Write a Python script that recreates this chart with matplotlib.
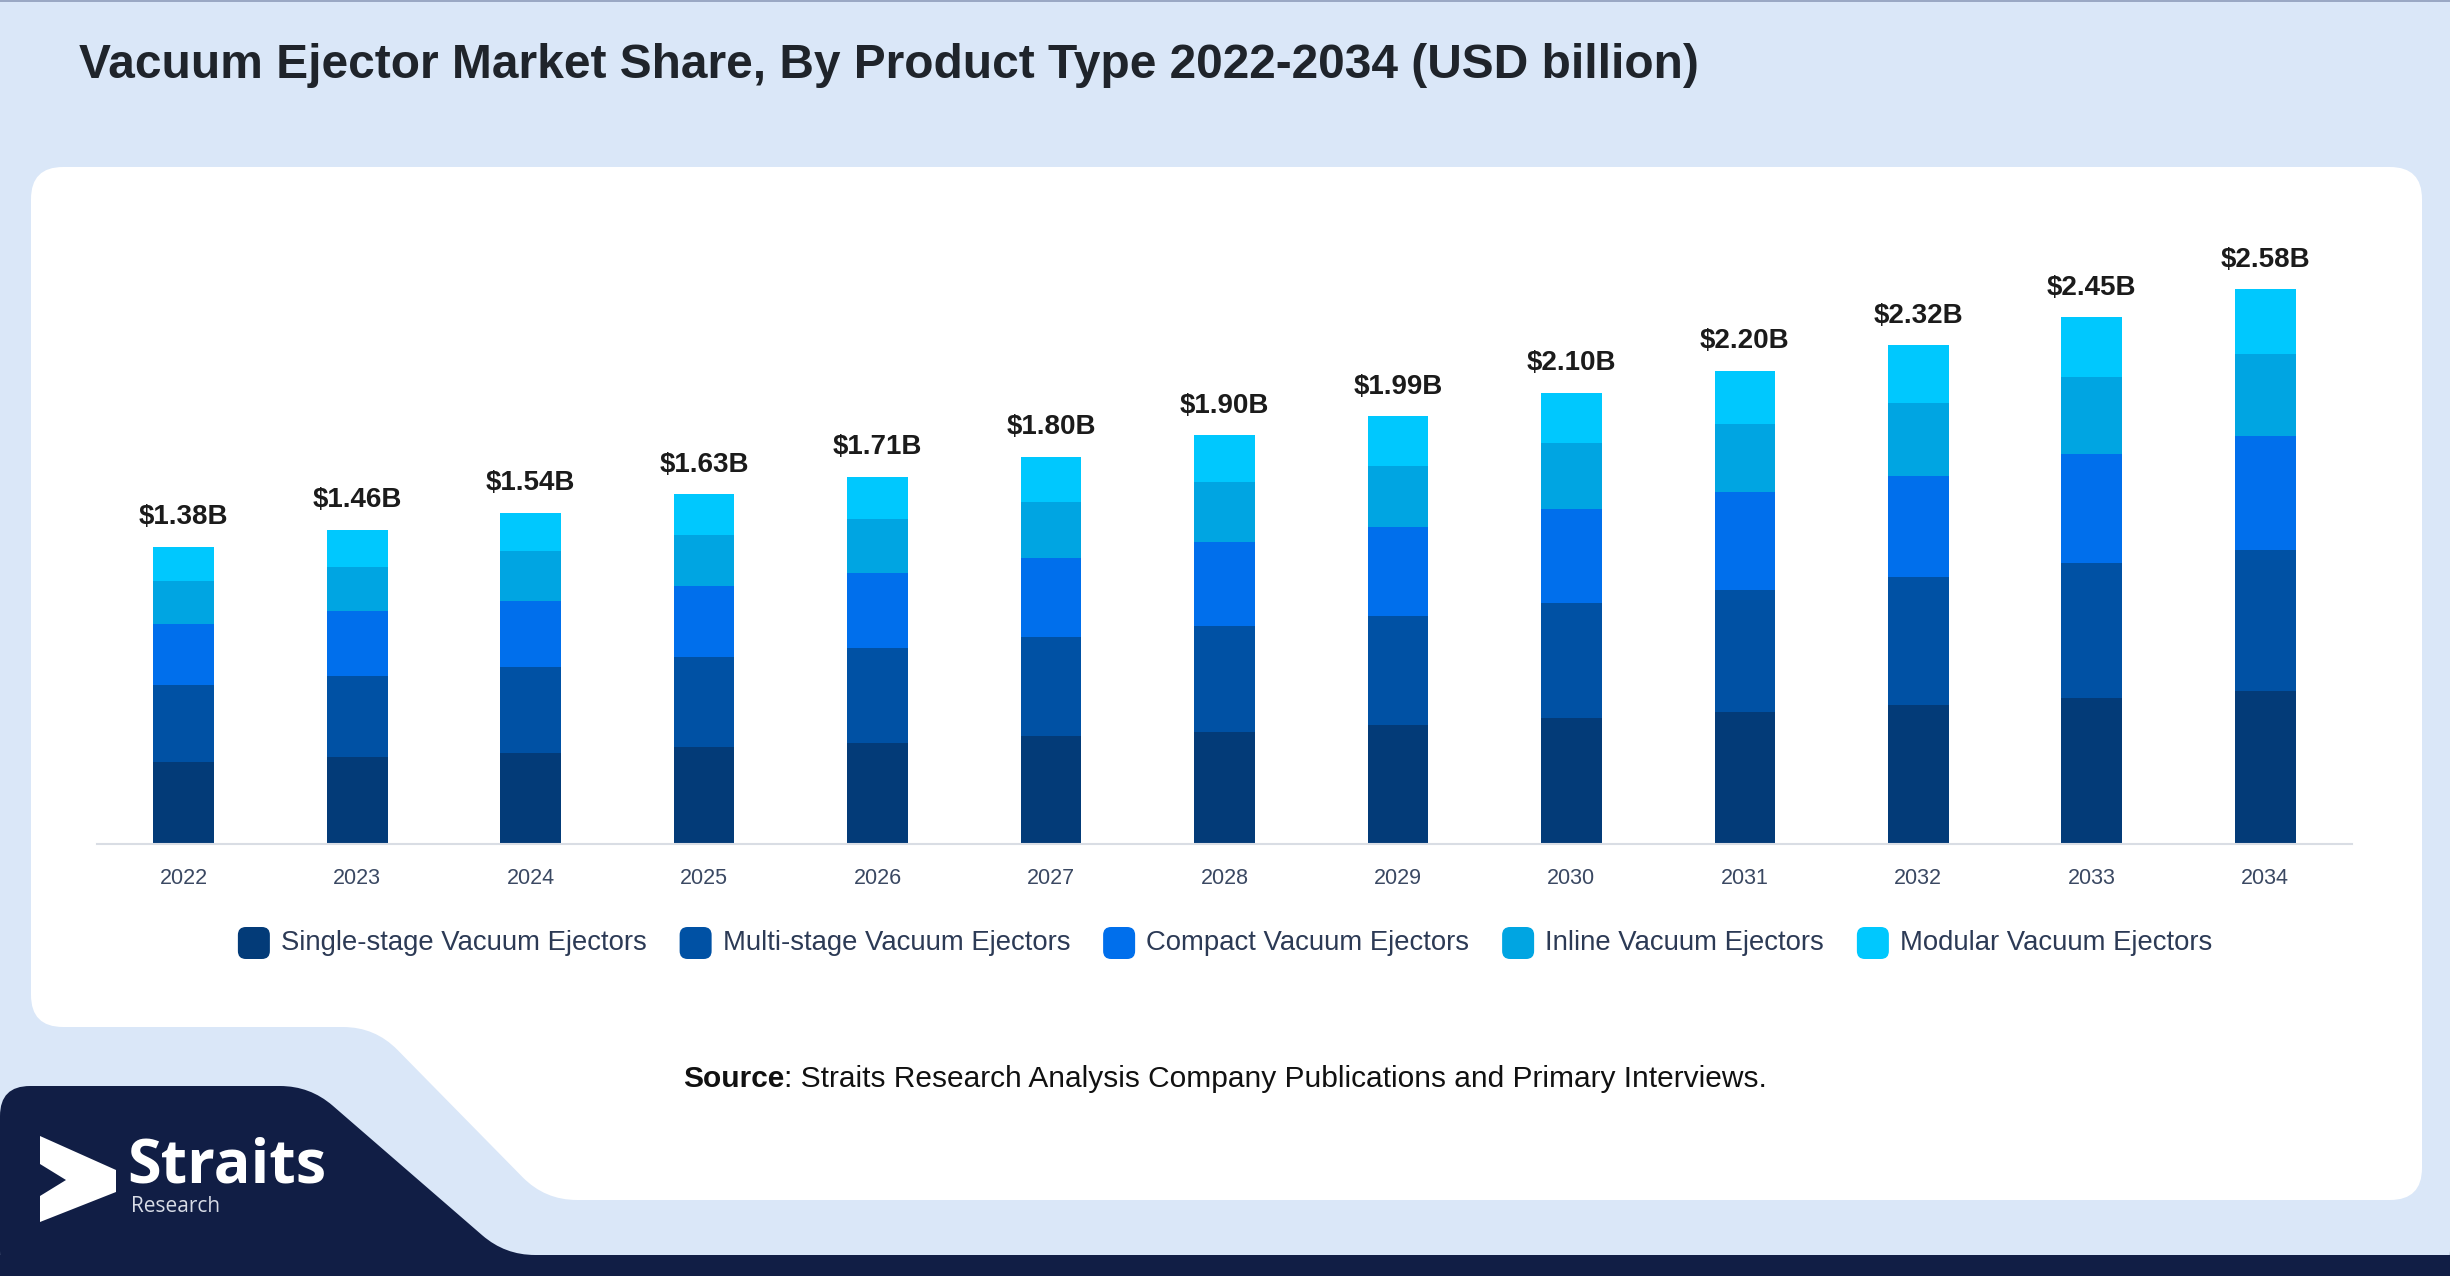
import numpy as np
import matplotlib
matplotlib.use("Agg")
import matplotlib.pyplot as plt
from matplotlib.path import Path
from matplotlib.patches import PathPatch, FancyBboxPatch, Rectangle, Polygon

plt.rcParams['font.family'] = ['Liberation Sans', 'DejaVu Sans']

# data (USD billion)
years = ['2022', '2023', '2024', '2025', '2026', '2027', '2028',
         '2029', '2030', '2031', '2032', '2033', '2034']
single = [0.380, 0.403, 0.423, 0.453, 0.470, 0.504, 0.523, 0.552, 0.586, 0.613, 0.645, 0.677, 0.711]
multi = [0.360, 0.377, 0.399, 0.415, 0.443, 0.458, 0.489, 0.510, 0.537, 0.570, 0.595, 0.631, 0.657]
compact = [0.281, 0.302, 0.310, 0.333, 0.347, 0.369, 0.391, 0.412, 0.433, 0.452, 0.471, 0.505, 0.531]
inline = [0.202, 0.208, 0.229, 0.237, 0.251, 0.261, 0.279, 0.286, 0.308, 0.317, 0.341, 0.360, 0.382]
modular = [0.158, 0.171, 0.178, 0.189, 0.198, 0.208, 0.219, 0.229, 0.236, 0.248, 0.268, 0.277, 0.299]
totals = [1.38, 1.46, 1.54, 1.63, 1.71, 1.80, 1.90, 1.99, 2.10, 2.20, 2.32, 2.45, 2.58]

series_names = ['Single-stage Vacuum Ejectors', 'Multi-stage Vacuum Ejectors',
                'Compact Vacuum Ejectors', 'Inline Vacuum Ejectors', 'Modular Vacuum Ejectors']
colors = ['#033b78', '#0051a4', '#006fec', '#00a5e2', '#00c8fe']

W, H = 2450, 1276
fig = plt.figure(figsize=(W / 100, H / 100), dpi=100)
fig.patch.set_facecolor('#dae7f8')


def rounded_path(pts, r):
    # closed polygon with rounded corners (quadratic curves)
    pts = [np.array(p, float) for p in pts]
    n = len(pts)
    verts, codes = [], []
    for i in range(n):
        p0, p1, p2 = pts[i - 1], pts[i], pts[(i + 1) % n]
        d1 = (p0 - p1) / np.linalg.norm(p0 - p1)
        d2 = (p2 - p1) / np.linalg.norm(p2 - p1)
        a = p1 + d1 * r
        b = p1 + d2 * r
        verts += [a, p1, b]
        codes += [Path.MOVETO if i == 0 else Path.LINETO, Path.CURVE3, Path.CURVE3]
    verts.append(verts[0])
    codes.append(Path.CLOSEPOLY)
    return Path(verts, codes)


# background decoration in pixel coordinates
bg = fig.add_axes([0, 0, 1, 1])
bg.set_xlim(0, W)
bg.set_ylim(H, 0)
bg.axis('off')
bg.add_patch(Rectangle((0, 0), W, 2, color='#9aa8c4', lw=0))

panel = [(31, 167), (2422, 167), (2422, 1200), (545, 1200), (375, 1027), (31, 1027)]
bg.add_patch(PathPatch(rounded_path(panel, 32), facecolor='white', lw=0))

navy = '#111e45'
band = [(0, 1086), (310, 1086), (505, 1255), (W, 1255), (W, H + 5), (0, H + 5)]
bg.add_patch(PathPatch(rounded_path(band, 30), facecolor=navy, lw=0))
bg.add_patch(Rectangle((0, 1255), W, 25, color=navy, lw=0))

# logo
arrow = [(40, 1136), (116, 1170), (116, 1192), (40, 1222), (40, 1196), (66, 1180), (40, 1164)]
bg.add_patch(Polygon(arrow, closed=True, facecolor='white', lw=0))
bg.text(127, 1167, 'Straits', color='white', fontsize=44, fontweight='bold',
        va='center', ha='left', family=['Open Sans', 'DejaVu Sans'])
bg.text(131, 1207, 'Research', color='#d8dce6', fontsize=15, va='center', ha='left',
        family=['Open Sans', 'DejaVu Sans'])

fig.text(79 / W, 1 - 65 / H, 'Vacuum Ejector Market Share, By Product Type 2022-2034 (USD billion)',
         fontsize=34.5, fontweight='bold', color='#1f242b', va='center', ha='left')

# main chart
ax = fig.add_axes([97 / W, 1 - 844 / H, 2255 / W, 645 / H])
ax.set_facecolor('none')
x = np.arange(len(years))
bottom = np.zeros(len(years))
for vals, name, c in zip([single, multi, compact, inline, modular], series_names, colors):
    ax.bar(x, vals, width=0.35, bottom=bottom, color=c, label=name, linewidth=0)
    bottom += np.array(vals)

for xi, top, t in zip(x, bottom, totals):
    ax.annotate('$%.2fB' % t, (xi, top), xytext=(0, 12), textcoords='offset points',
                ha='center', va='bottom', fontsize=20, fontweight='bold', color='#1b1b1b')

ax.set_xlim(-0.5, len(years) - 0.5)
ax.set_ylim(0, 3.0)
ax.set_xticks(x)
ax.set_xticklabels(years, fontsize=15.5, color='#3a4862')
ax.tick_params(axis='x', length=0, pad=17)
ax.set_yticks([])
for s in ['top', 'right', 'left']:
    ax.spines[s].set_visible(False)
ax.spines['bottom'].set_color('#d9dde4')
ax.spines['bottom'].set_linewidth(1.5)

# legend drawn by hand so the swatches can be rounded
fig.canvas.draw()
rend = fig.canvas.get_renderer()
sw, gap_txt, gap_item = 32, 11, 33
items = []
total_w = 0
for name in series_names:
    t = bg.text(0, 943, name, fontsize=19.8, color='#2c3a55', va='center', ha='left')
    w = t.get_window_extent(rend).width
    items.append((t, w))
    total_w += sw + gap_txt + w
total_w += gap_item * (len(items) - 1)
cur = W / 2 - total_w / 2
for (t, w), c in zip(items, colors):
    bg.add_patch(FancyBboxPatch((cur + 4, 943 - sw / 2 + 4), sw - 8, sw - 8,
                                boxstyle='round,pad=4,rounding_size=8', facecolor=c, lw=0))
    t.set_x(cur + sw + gap_txt)
    cur += sw + gap_txt + w + gap_item

# source line
s1 = bg.text(0, 1079, 'Source', fontsize=21.5, fontweight='bold', color='#111111', va='center')
s2 = bg.text(0, 1079, ': Straits Research Analysis Company Publications and Primary Interviews.',
             fontsize=21.5, color='#111111', va='center')
w1 = s1.get_window_extent(rend).width
w2 = s2.get_window_extent(rend).width
start = W / 2 - (w1 + w2) / 2
s1.set_x(start)
s2.set_x(start + w1)

fig.savefig('out.png', dpi=100, facecolor=fig.get_facecolor())
